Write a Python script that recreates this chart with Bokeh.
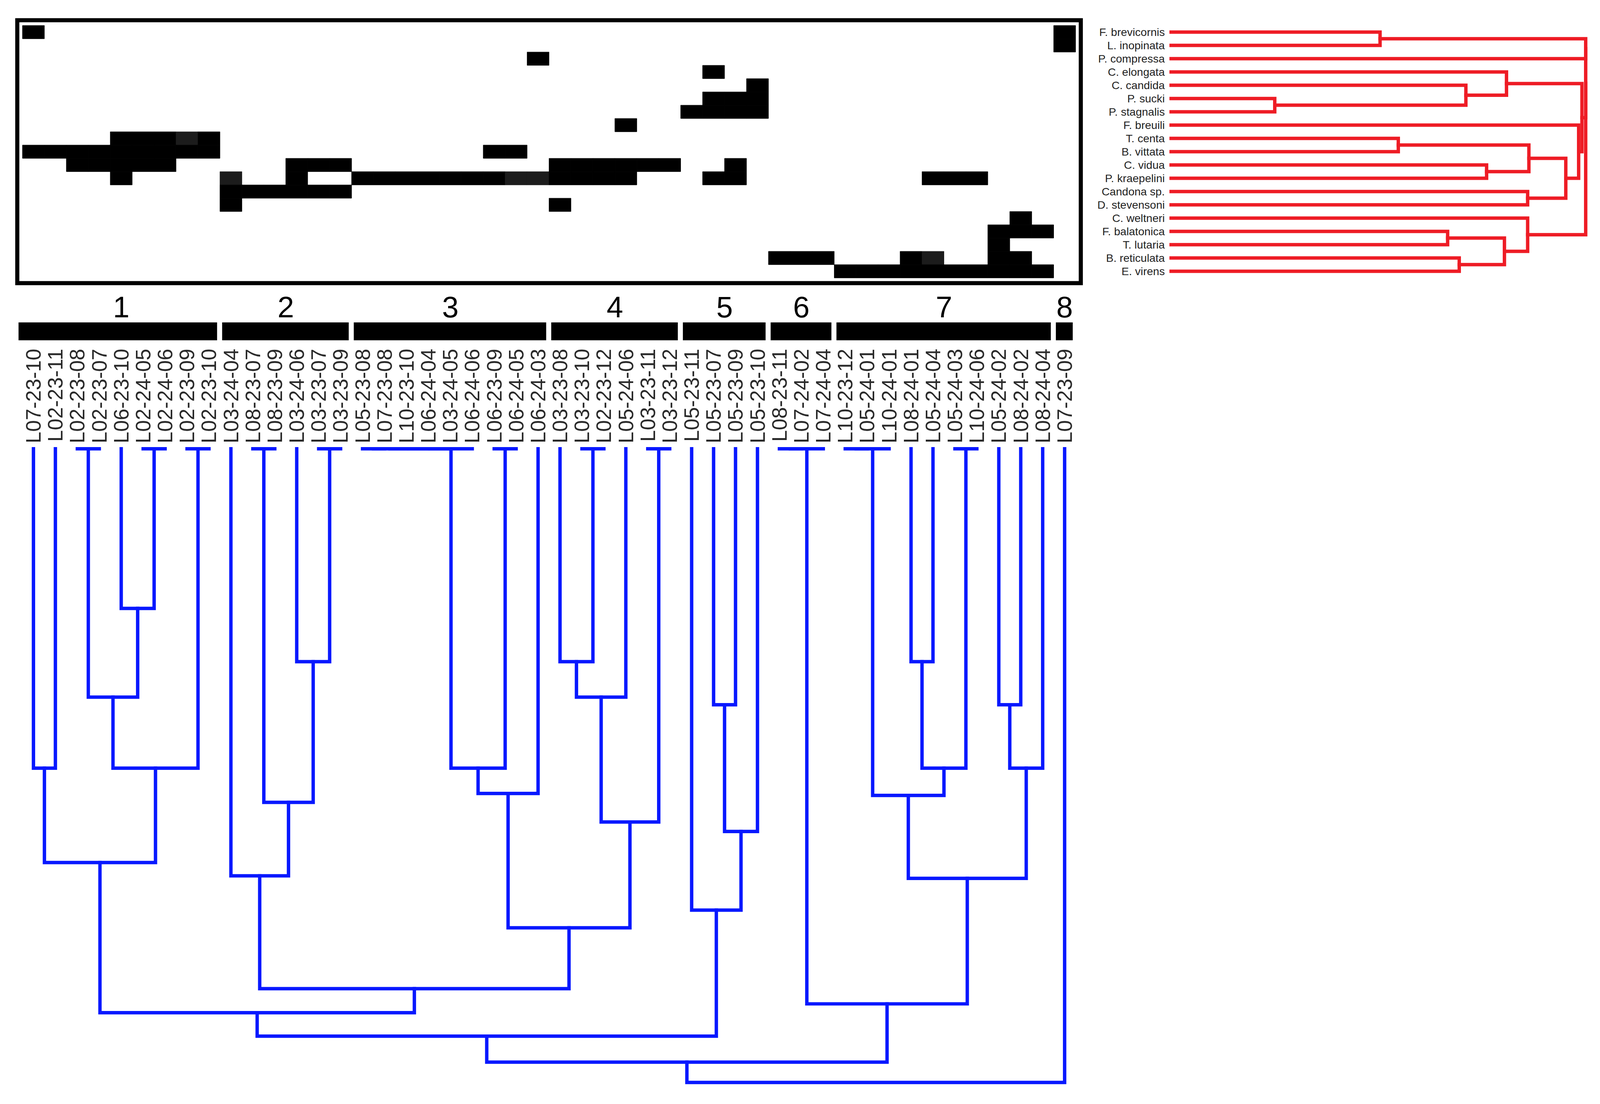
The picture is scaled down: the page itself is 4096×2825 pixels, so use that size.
from bokeh.plotting import figure
from bokeh.models import Range1d
from bokeh.embed import file_html
from bokeh.resources import INLINE
from bokeh.core.properties import value

# ---------------- data ----------------
species = ["F. brevicornis", "L. inopinata", "P. compressa", "C. elongata", "C. candida",
           "P. sucki", "P. stagnalis", "F. breuili", "T. centa", "B. vittata", "C. vidua",
           "P. kraepelini", "Candona sp.", "D. stevensoni", "C. weltneri", "F. balatonica",
           "T. lutaria", "B. reticulata", "E. virens"]

samples = ["L07-23-10", "L02-23-11", "L02-23-08", "L02-23-07", "L06-23-10", "L02-24-05",
           "L02-24-06", "L02-23-09", "L02-23-10",
           "L03-24-04", "L08-23-07", "L08-23-09", "L03-24-06", "L03-23-07", "L03-23-09",
           "L05-23-08", "L07-23-08", "L10-23-10", "L06-24-04", "L03-24-05", "L06-24-06",
           "L06-23-09", "L06-24-05", "L06-24-03",
           "L03-23-08", "L03-23-10", "L02-23-12", "L05-24-06", "L03-23-11", "L03-23-12",
           "L05-23-11", "L05-23-07", "L05-23-09", "L05-23-10",
           "L08-23-11", "L07-24-02", "L07-24-04",
           "L10-23-12", "L05-24-01", "L10-24-01", "L08-24-01", "L05-24-04", "L05-24-03",
           "L10-24-06", "L05-24-02", "L08-24-02", "L08-24-04",
           "L07-23-09"]

group_labels = ["1", "2", "3", "4", "5", "6", "7", "8"]
group_sizes = [9, 6, 9, 6, 4, 3, 10, 1]

# columns (sample index) where each species occurs
occurrence = [
    [0, 47],
    [47],
    [23],
    [31],
    [33],
    [31, 32, 33],
    [30, 31, 32, 33],
    [27],
    [4, 5, 6, 7, 8],
    [0, 1, 2, 3, 4, 5, 6, 7, 8, 21, 22],
    [2, 3, 4, 5, 6, 12, 13, 14, 24, 25, 26, 27, 28, 29, 32],
    [4, 9, 12, 15, 16, 17, 18, 19, 20, 21, 22, 23, 24, 25, 26, 27, 31, 32, 41, 42, 43],
    [9, 10, 11, 12, 13, 14],
    [9, 24],
    [45],
    [44, 45, 46],
    [44],
    [34, 35, 36, 40, 41, 44, 45],
    [37, 38, 39, 40, 41, 42, 43, 44, 45, 46],
]
# cells drawn in a slightly lighter shade (species row, sample column)
lighter_cells = [(8, 7), (11, 9), (11, 22), (11, 23), (17, 41)]

# sample dendrogram: (child a, child b, height); leaves 0..47, new nodes 48, 49, ...
sample_merges = [
    (2, 3, 0.0), (5, 6, 0.0), (7, 8, 0.0), (10, 11, 0.0), (13, 14, 0.0),
    (15, 16, 0.0), (53, 17, 0.0), (54, 18, 0.0), (55, 19, 0.0), (56, 20, 0.0),
    (21, 22, 0.0), (25, 26, 0.0), (28, 29, 0.0), (34, 35, 0.0), (61, 36, 0.0),
    (37, 38, 0.0), (63, 39, 0.0), (42, 43, 0.0),
    (4, 49, 0.252), (48, 66, 0.392), (0, 1, 0.504), (67, 50, 0.504), (68, 69, 0.653),
    (12, 52, 0.336), (51, 71, 0.558), (9, 72, 0.674),
    (57, 58, 0.504), (74, 23, 0.544),
    (24, 59, 0.336), (76, 27, 0.392), (77, 60, 0.589),
    (75, 78, 0.756), (73, 79, 0.852), (70, 80, 0.890),
    (31, 32, 0.404), (82, 33, 0.604), (30, 83, 0.728), (81, 84, 0.927),
    (40, 41, 0.336), (86, 65, 0.504), (64, 87, 0.547), (44, 45, 0.404), (89, 46, 0.504),
    (88, 90, 0.678), (62, 91, 0.876), (85, 92, 0.968), (93, 47, 1.0),
]

# species dendrogram: leaves 0..18, new nodes 19, 20, ...
species_merges = [
    (0, 1, 0.504), (5, 6, 0.25), (4, 20, 0.711), (3, 21, 0.809),
    (8, 9, 0.548), (10, 11, 0.761), (23, 24, 0.863), (12, 13, 0.86),
    (25, 26, 0.952), (7, 27, 0.983), (22, 28, 0.991),
    (15, 16, 0.667), (17, 18, 0.695), (30, 31, 0.804), (14, 32, 0.86),
    (19, 2, 1.0), (34, 29, 1.0), (35, 33, 1.0),
]

# ---------------- layout (reference pixels) ----------------
S = 0.951
OFF = 0.0
FW, FH = 4080, 2810
COL0, COLW = 60.0, 59.06      # heatmap columns
ROW0, ROWH = 68.0, 35.75      # heatmap rows
BLUE0, BLUEU = 1207.0, 1705.0  # sample dendrogram height scale
RED0, REDU = 3152.0, 1116.0   # species dendrogram height scale


def xr(origin, unit):
    return Range1d(start=(OFF / S - origin) / unit, end=((FW + OFF) / S - origin) / unit)


def yr(origin, unit):
    return Range1d(start=((FH + OFF) / S - origin) / unit, end=(OFF / S - origin) / unit)


p = figure(width=FW, height=FH, x_range=xr(0, 1), y_range=yr(0, 1),
           output_backend="svg", toolbar_location=None, min_border=0,
           x_axis_location=None, y_axis_location=None,
           background_fill_color="white", border_fill_color="white",
           outline_line_color=None)
p.grid.visible = False
p.extra_x_ranges = {"col": xr(COL0, COLW), "red": xr(RED0, REDU)}
p.extra_y_ranges = {"row": yr(ROW0, ROWH), "blue": yr(BLUE0, BLUEU)}

# ---------------- heatmap ----------------
L, R, T, B, C = [], [], [], [], []
for r, cols in enumerate(occurrence):
    for c in cols:
        L.append(c); R.append(c + 1); T.append(r); B.append(r + 1)
        C.append("#1c1c1c" if (r, c) in lighter_cells else "#000000")
p.quad(left=L, right=R, top=T, bottom=B, fill_color=C, line_color=C, line_width=1,
       x_range_name="col", y_range_name="row")

n_cols = len(samples)
n_rows = len(species)
pad_x, pad_y = 14.0 / COLW, 14.0 / ROWH
p.quad(left=[-pad_x], right=[n_cols + pad_x], top=[-pad_y], bottom=[n_rows + pad_y],
       fill_color=None, line_color="black", line_width=10.5, line_join="miter",
       x_range_name="col", y_range_name="row")

# ---------------- group bars + numbers ----------------
gl, gr, gc = [], [], []
start = 0
for size in group_sizes:
    gl.append(start + 0.1)
    gr.append(start + size - 0.13)
    gc.append(start + size / 2.0)
    start += size
gl[0] = -0.18  # the first bar starts at the heatmap frame
p.quad(left=gl, right=gr, top=[867] * len(gl), bottom=[915] * len(gl),
       fill_color="black", line_color=None, x_range_name="col")
p.text(x=gc, y=[825] * len(gc), text=group_labels, text_align="center",
       text_baseline="middle", text_font=value("Liberation Sans"),
       text_font_size="76px", text_color="black", x_range_name="col")

# ---------------- sample labels ----------------
p.text(x=[i + 0.5 for i in range(n_cols)], y=[938] * n_cols, text=samples,
       angle=1.5707963, text_align="right", text_baseline="middle",
       text_font=value("Liberation Sans"), text_font_size="53px",
       text_color="#2a2a2a", x_range_name="col")

# ---------------- species labels ----------------
p.text(x=[3135] * n_rows, y=[r + 0.5 for r in range(n_rows)], text=species,
       text_align="right", text_baseline="middle",
       text_font=value("Liberation Sans"), text_font_size="28.5px",
       text_color="#222222", y_range_name="row")


# ---------------- dendrograms ----------------
def tree_paths(n_leaves, merges):
    pos = [i + 0.5 for i in range(n_leaves)]
    hgt = [0.0] * n_leaves
    along, height = [], []
    for a, b, h in merges:
        along.append([pos[a], pos[a], pos[b], pos[b]])
        height.append([hgt[a], h, h, hgt[b]])
        pos.append((pos[a] + pos[b]) / 2.0)
        hgt.append(h)
    return along, height


bx, by = tree_paths(n_cols, sample_merges)
p.multi_line(xs=bx, ys=by, line_color="#0818ff", line_width=8.7,
             line_join="miter", line_cap="square",
             x_range_name="col", y_range_name="blue")

ry, rx = tree_paths(n_rows, species_merges)
p.multi_line(xs=rx, ys=ry, line_color="#ee1c25", line_width=8.7,
             line_join="miter", line_cap="square",
             x_range_name="red", y_range_name="row")

open("out.html", "w").write(file_html(p, INLINE))
